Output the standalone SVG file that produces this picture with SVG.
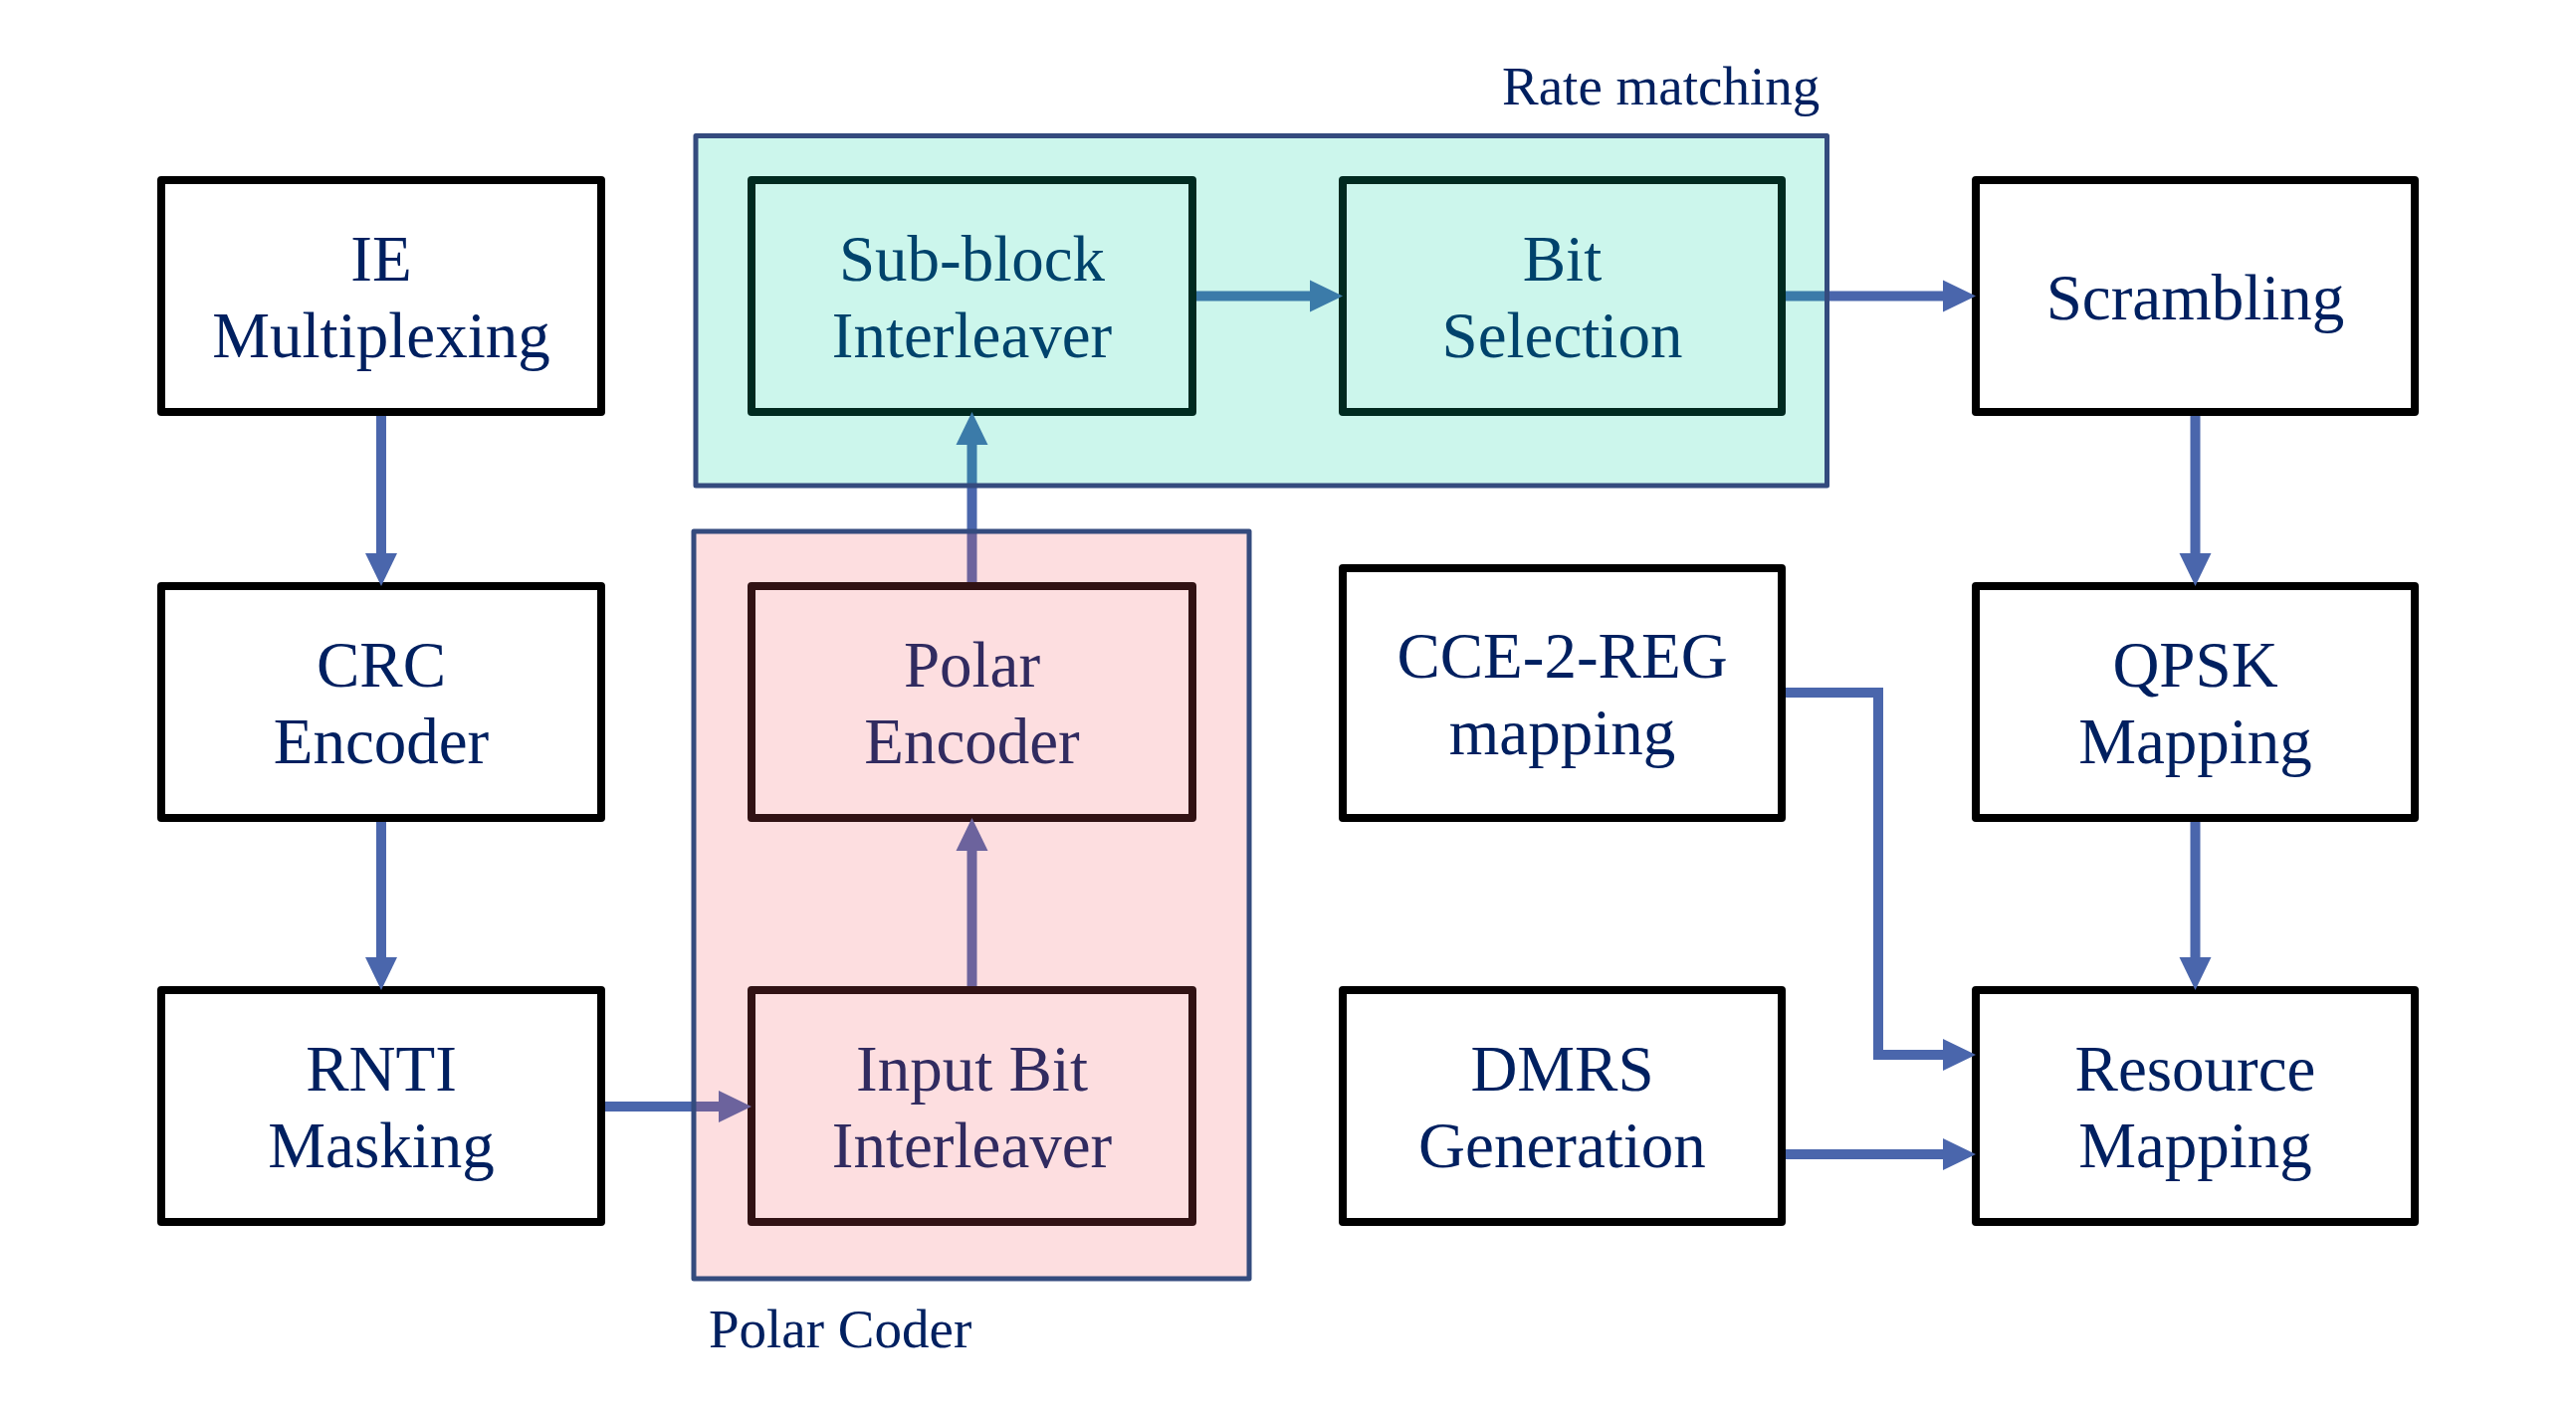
<svg xmlns="http://www.w3.org/2000/svg" width="2588" height="1422" viewBox="0 0 2588 1422">
<style>
.box{fill:#ffffff;stroke:#000000;stroke-width:8;stroke-linejoin:round}
.t{font-family:"Liberation Serif","Times New Roman",serif;font-size:65px;fill:#002060;text-anchor:middle}
.lbl{font-family:"Liberation Serif","Times New Roman",serif;font-size:55px;fill:#002060}
.c{fill:none;stroke:#4A66AC;stroke-width:10;marker-end:url(#ah)}
.ov{stroke:none;opacity:0.2}
.bd{fill:none;stroke:#344B7E;stroke-width:5;stroke-linejoin:round}
</style>
<defs>
<marker id="ah" markerUnits="userSpaceOnUse" markerWidth="34" markerHeight="34" viewBox="0 0 34 34" refX="1" refY="17" orient="auto">
<path d="M0,1 L33,17 L0,33 z" fill="#4A66AC"/>
</marker>
</defs>
<rect width="2588" height="1422" fill="#ffffff"/>
<g id="ie"><rect class="box" x="162" y="181" width="442" height="233"/><text class="t" x="383" y="281.5">IE</text><text class="t" x="383" y="358.5">Multiplexing</text></g>
<g id="crc"><rect class="box" x="162" y="589" width="442" height="233"/><text class="t" x="383" y="689.5">CRC</text><text class="t" x="383" y="766.5">Encoder</text></g>
<g id="rnti"><rect class="box" x="162" y="995" width="442" height="233"/><text class="t" x="383" y="1095.5">RNTI</text><text class="t" x="383" y="1172.5">Masking</text></g>
<g id="subblock"><rect class="box" x="755" y="181" width="443" height="233"/><text class="t" x="976.5" y="281.5">Sub-block</text><text class="t" x="976.5" y="358.5">Interleaver</text></g>
<g id="polarenc"><rect class="box" x="755" y="589" width="443" height="233"/><text class="t" x="976.5" y="689.5">Polar</text><text class="t" x="976.5" y="766.5">Encoder</text></g>
<g id="inputbit"><rect class="box" x="755" y="995" width="443" height="233"/><text class="t" x="976.5" y="1095.5">Input Bit</text><text class="t" x="976.5" y="1172.5">Interleaver</text></g>
<g id="bitsel"><rect class="box" x="1349" y="181" width="441" height="233"/><text class="t" x="1569.5" y="281.5">Bit</text><text class="t" x="1569.5" y="358.5">Selection</text></g>
<g id="cce"><rect class="box" x="1349" y="571" width="441" height="251"/><text class="t" x="1569.5" y="680.5">CCE-2-REG</text><text class="t" x="1569.5" y="757.5">mapping</text></g>
<g id="dmrs"><rect class="box" x="1349" y="995" width="441" height="233"/><text class="t" x="1569.5" y="1095.5">DMRS</text><text class="t" x="1569.5" y="1172.5">Generation</text></g>
<g id="scrambling"><rect class="box" x="1985" y="181" width="441" height="233"/><text class="t" x="2205.5" y="320.5">Scrambling</text></g>
<g id="qpsk"><rect class="box" x="1985" y="589" width="441" height="233"/><text class="t" x="2205.5" y="689.5">QPSK</text><text class="t" x="2205.5" y="766.5">Mapping</text></g>
<g id="resource"><rect class="box" x="1985" y="995" width="441" height="233"/><text class="t" x="2205.5" y="1095.5">Resource</text><text class="t" x="2205.5" y="1172.5">Mapping</text></g>
<g id="connectors">
<path class="c" d="M383,418 V557"/>
<path class="c" d="M383,826 V963"/>
<path class="c" d="M608,1112 H723"/>
<path class="c" d="M976.5,991 V854"/>
<path class="c" d="M976.5,585 V446"/>
<path class="c" d="M1202,297.5 H1317"/>
<path class="c" d="M1794,297.5 H1953"/>
<path class="c" d="M2205.5,418 V557"/>
<path class="c" d="M2205.5,826 V963"/>
<path class="c" d="M1794,696 H1887 V1060 H1953"/>
<path class="c" d="M1794,1160 H1953"/>
</g>
<g id="rate-matching">
<rect class="ov" x="699" y="136.5" width="1136.5" height="351.5" fill="rgb(0,210,160)"/>
<rect class="bd" x="699" y="136.5" width="1136.5" height="351.5"/>
<text class="lbl" x="1509" y="105">Rate matching</text>
</g>
<g id="polar-coder">
<rect class="ov" x="697" y="534" width="558" height="751" fill="rgb(245,88,100)"/>
<rect class="bd" x="697" y="534" width="558" height="751"/>
<text class="lbl" x="712" y="1354">Polar Coder</text>
</g>
</svg>
